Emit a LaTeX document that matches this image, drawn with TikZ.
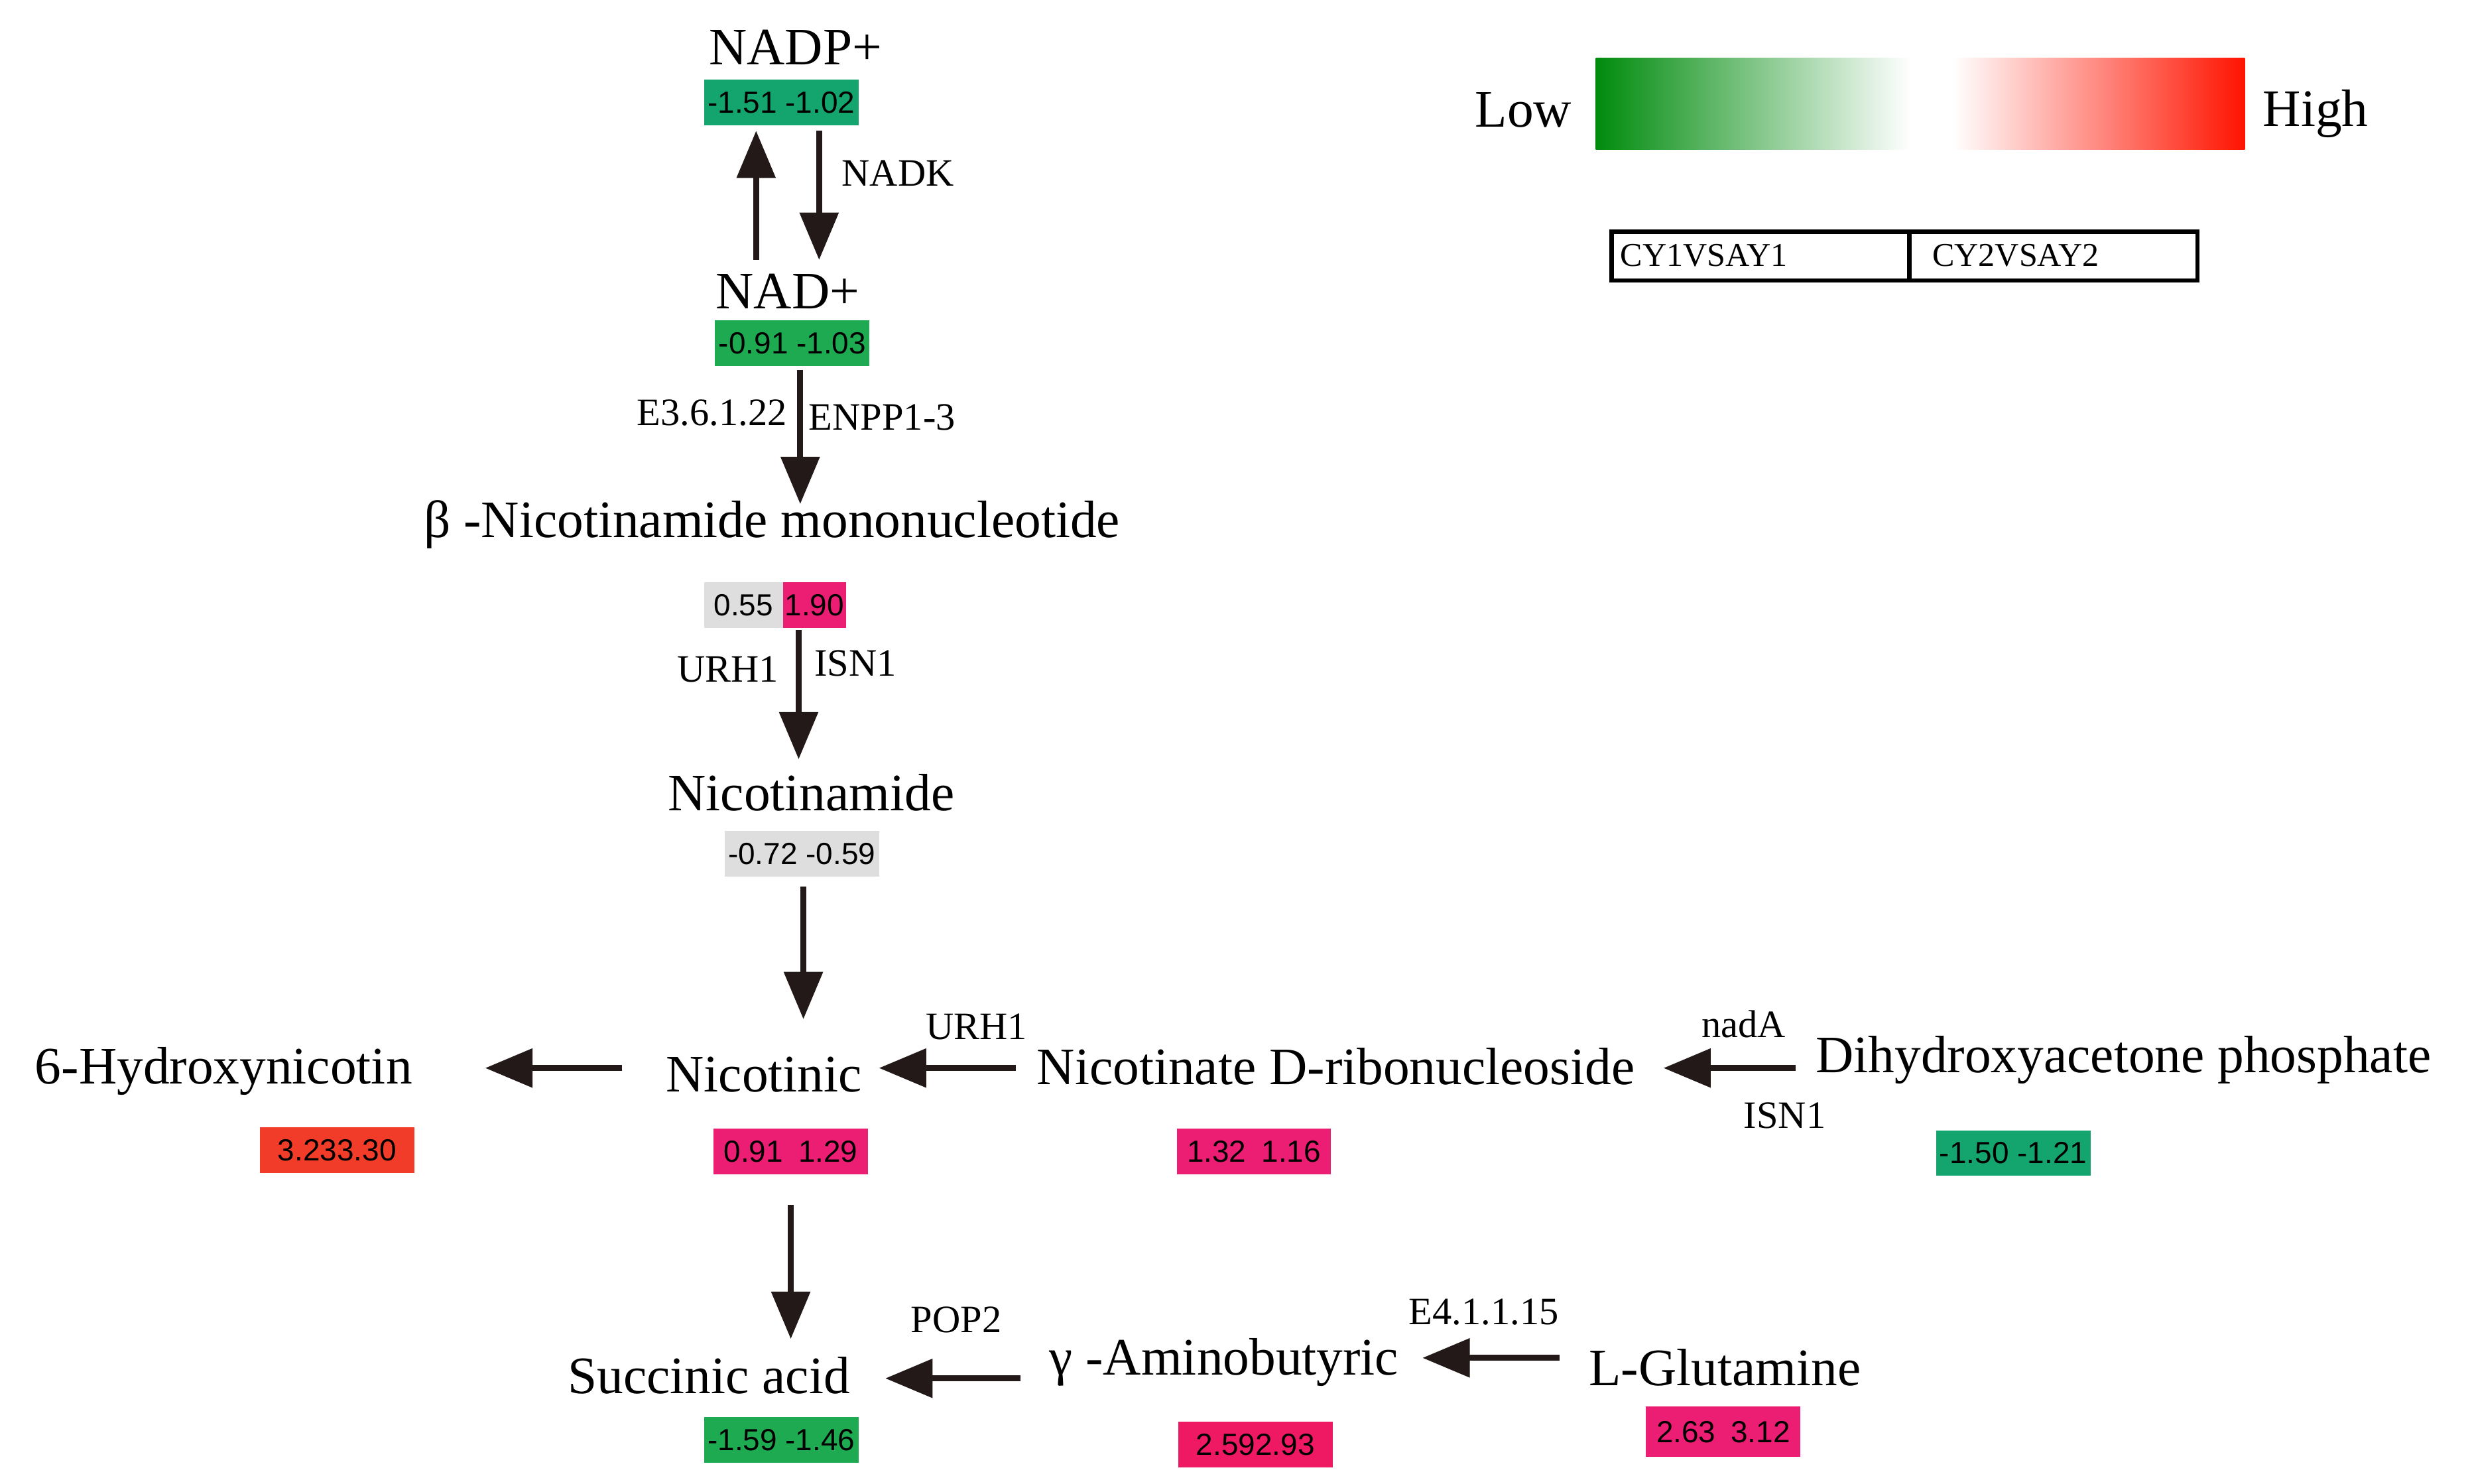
\documentclass[tikz,border=0pt]{standalone}
\usepackage{fontspec}
\setmainfont{Liberation Serif}
\newfontfamily\boxfont{Liberation Sans}
\usetikzlibrary{arrows.meta}
\definecolor{tgreen}{RGB}{20,165,110}
\definecolor{bgreen}{RGB}{30,170,80}
\definecolor{mpink}{RGB}{235,30,115}
\definecolor{mred}{RGB}{240,60,40}
\definecolor{mgray}{RGB}{222,222,222}
\begin{document}
\begin{tikzpicture}[x=0.01cm,y=-0.01cm,
 met/.style={font=\fontsize{9.5}{11}\selectfont,inner sep=0},
 lab/.style={font=\fontsize{7}{8}\selectfont,inner sep=0},
 vb/.style={minimum width=0.98cm,minimum height=0.29cm,inner sep=0,font=\boxfont\fontsize{5.5}{6}\selectfont},
 arr/.style={line width=1.1pt,-{Triangle[length=3mm,width=2.4mm]},draw={rgb,255:red,35;green,25;blue,25}}]
\useasboundingbox (0,0) rectangle (1568,942);
% metabolites
\node[met] (nadp) at (505,30) {NADP+};
\node[vb,fill=tgreen] (bnadp) at (496,65) {-1.51 -1.02};
\node[met] (nad) at (500,185) {NAD+};
\node[vb,fill=bgreen] (bnad) at (503,218) {-0.91 -1.03};
\node[met] (nmn) at (490,333) {β -Nicotinamide mononucleotide};
\node[vb,fill=mgray,minimum width=0.5cm] (bnmn1) at (472,384) {0.55};
\node[vb,fill=mpink,minimum width=0.4cm] (bnmn2) at (517,384) {1.90};
\node[met] (nam) at (515,503) {Nicotinamide};
\node[vb,fill=mgray] (bnam) at (509,542) {-0.72 -0.59};
\node[met] (nic) at (485,682) {Nicotinic};
\node[vb,fill=mpink] (bnic) at (502,731) {0.91\enspace 1.29};
\node[met] (hyd) at (142,680) {6-Hydroxynicotin};
\node[vb,fill=mred] (bhyd) at (214,730) {3.233.30};
\node[met] (ndr) at (848,677) {Nicotinate D-ribonucleoside};
\node[vb,fill=mpink] (bndr) at (796,731) {1.32\enspace 1.16};
\node[met] (dhap) at (1348,673) {Dihydroxyacetone phosphate};
\node[vb,fill=tgreen] (bdhap) at (1278,732) {-1.50 -1.21};
\node[met] (suc) at (450,873) {Succinic acid};
\node[vb,fill=bgreen] (bsuc) at (496,914) {-1.59 -1.46};
\node[met] (gaba) at (777,865) {γ -Aminobutyric};
\node[vb,fill=mpink!85!red] (bgaba) at (797,917) {2.592.93};
\node[met] (gln) at (1095,868) {L-Glutamine};
\node[vb,fill=mpink,minimum height=0.32cm] (bgln) at (1094,909) {2.63\enspace 3.12};
% coordinates
\coordinate (a1s) at (480,165); \coordinate (a1e) at (480,83);
\coordinate (a2s) at (520,83); \coordinate (a2e) at (520,165);
\coordinate (a3s) at (508,235); \coordinate (a3e) at (508,320);
\coordinate (a4s) at (507,400); \coordinate (a4e) at (507,482);
\coordinate (a5s) at (510,563); \coordinate (a5e) at (510,647);
\coordinate (a6s) at (395,678); \coordinate (a6e) at (308,678);
\coordinate (a7s) at (645,678); \coordinate (a7e) at (558,678);
\coordinate (a8s) at (1140,678); \coordinate (a8e) at (1056,678);
\coordinate (a9s) at (502,765); \coordinate (a9e) at (502,850);
\coordinate (a10s) at (648,875); \coordinate (a10e) at (562,875);
\coordinate (a11s) at (990,862); \coordinate (a11e) at (903,862);
\foreach \i in {1,...,11}{\draw[arr] (a\i s) -- (a\i e);}
% labels
\node[lab] at (570,110) {NADK};
\node[lab] at (452,262) {E3.6.1.22};
\node[lab] at (560,265) {ENPP1-3};
\node[lab] at (462,425) {URH1};
\node[lab] at (543,421) {ISN1};
\node[lab] at (620,652) {URH1};
\node[lab] at (1107,650) {nadA};
\node[lab] at (1133,708) {ISN1};
\node[lab] at (607,838) {POP2};
\node[lab] at (942,833) {E4.1.1.15};
% legend
\node[met] (low) at (967,70) {Low};
\node[met] (high) at (1470,72) {High};
\shade[left color=green!55!black!90!teal, right color=white] (1013,37) rectangle (1213,95);
\fill[white] (1213,37) rectangle (1240,95);
\shade[left color=white, right color=red!85!orange] (1240,37) rectangle (1425,95);
\draw[line width=0.8pt] (1023,147) rectangle (1395,178);
\draw[line width=0.8pt] (1212,147) -- (1212,178);
\node[lab,anchor=west,font=\fontsize{6}{7}\selectfont] at (1028,162) {CY1VSAY1};
\node[lab,anchor=west,font=\fontsize{6}{7}\selectfont] at (1226,162) {CY2VSAY2};
\end{tikzpicture}
\end{document}
